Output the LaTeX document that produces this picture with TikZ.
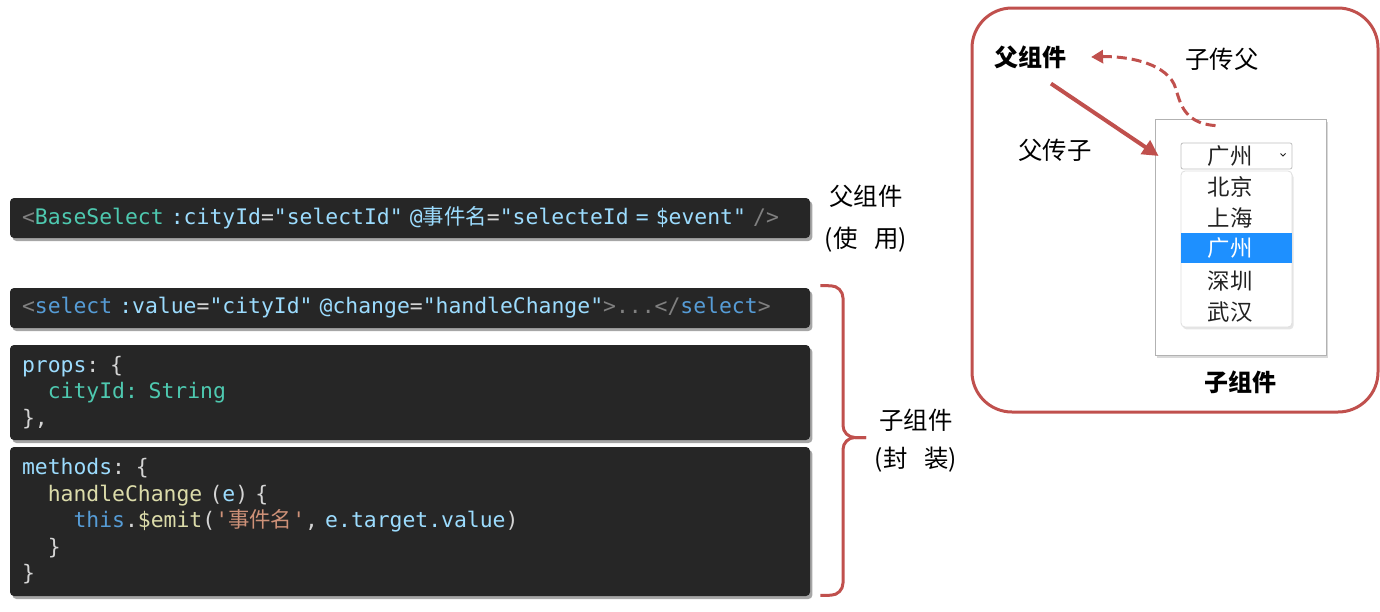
\documentclass[tikz,border=0pt]{standalone}
\usepackage{fontspec}
\setmonofont{DejaVu Sans Mono}
\newfontfamily\cjk{Noto Sans CJK SC}
\usepackage{xcolor}
\usepackage{tikz}
\usetikzlibrary{arrows.meta,shadows,positioning}

\definecolor{codebg}{HTML}{262626}
\definecolor{cgray}{HTML}{808080}
\definecolor{cwhite}{HTML}{D4D4D4}
\definecolor{ctag}{HTML}{4EC9B0}
\definecolor{cattr}{HTML}{9CDCFE}
\definecolor{cblue}{HTML}{569CD6}
\definecolor{cfunc}{HTML}{DCDCAA}
\definecolor{corange}{HTML}{CE9178}
\definecolor{bracered}{HTML}{C0504D}
\definecolor{hlblue}{HTML}{1E90FF}
\definecolor{inktext}{HTML}{222222}

% code colouring
\protected\def\codefont{\ttfamily\fontsize{10.7}{13.25}\selectfont\spaceskip=0.602em\relax}
\newcommand{\cg}[1]{\textcolor{cgray}{#1}}
\newcommand{\cw}[1]{\textcolor{cwhite}{#1}}
\newcommand{\ct}[1]{\textcolor{ctag}{#1}}
\newcommand{\ca}[1]{\textcolor{cattr}{#1}}
\newcommand{\cb}[1]{\textcolor{cblue}{#1}}
\newcommand{\cf}[1]{\textcolor{cfunc}{#1}}
\newcommand{\co}[1]{\textcolor{corange}{#1}}

\begin{document}
\begin{tikzpicture}[x=0.5pt, y=-0.5pt,
    codebox/.style={fill=codebg, rounded corners=2pt, text width=388pt, align=left,
        inner xsep=6pt, inner ysep=0pt, text=cwhite, font=\codefont,
        drop shadow={shadow xshift=1.2pt, shadow yshift=-1.5pt, opacity=0.35, fill=black}},
    lbl/.style={text=black, font=\cjk\fontsize{12.2}{14}\selectfont},
    pcarrow/.style={draw=bracered, line width=2pt, -{Triangle[length=8pt,width=8pt]}},
    cparrow/.style={draw=bracered, line width=1.5pt, dash pattern=on 5pt off 2.5pt,
        -{Triangle[length=6pt,width=6.5pt]}}]
    \useasboundingbox (0,0) rectangle (1380,611);

    % code snippets
    \node (usebox) [codebox, minimum height=20pt] at (410,218)
        {\cg{<}\ct{BaseSelect} \ca{:cityId}\cw{=}\ca{"selectId"} \ca{@{\cjk 事件名}}\cw{=}\ca{"selecteId = \$event"} \cg{/>}};
    \node (selbox) [codebox, minimum height=20pt] at (410,308)
        {\cg{<}\cb{select} \ca{:value}\cw{=}\ca{"cityId"} \ca{@change}\cw{=}\ca{"handleChange"}\cg{>...</}\cb{select}\cg{>}};
    \node (propbox) [codebox, minimum height=47.5pt] at (410,392.5)
        {\ca{props}\cw{: \{}\\
         \phantom{xx}\ct{cityId: String}\\
         \cw{\},}};
    \node (methbox) [codebox, minimum height=74.5pt] at (410,521.5)
        {\ca{methods}\cw{: \{}\\
         \phantom{xx}\cf{handleChange} \cw{(}\ca{e}\cw{) \{}\\
         \phantom{xxxx}\cb{this}\cw{.}\cf{\$emit}\cw{(}\co{'{\cjk 事件名}'}\cw{, }\ca{e.target.value}\cw{)}\\
         \phantom{xx}\cw{\}}\\
         \cw{\}}};

    % labels beside the code
    \node (uselbl) [lbl, align=center, font=\cjk\fontsize{12.2}{21}\selectfont] at (866,219)
        {父组件\\(使\hspace{0.7em}用)};
    \node (wraplbl) [lbl, align=center, font=\cjk\fontsize{12.2}{19}\selectfont] at (916,441)
        {子组件\\(封\hspace{0.7em}装)};

    % brace
    \draw[bracered, line width=1.5pt, rounded corners=6pt]
        ([shift={(10,-2)}]selbox.north east) -- (843,286) -- (843,437.5) -- (866,437.5);
    \draw[bracered, line width=1.5pt, rounded corners=6pt]
        ([shift={(10,-1)}]methbox.south east) -- (843,595) -- (843,437.5) -- (866,437.5);

    % right panel
    \node (panel) [draw=bracered, line width=1.5pt, rounded corners=20pt,
        minimum width=203pt, minimum height=202pt] at (1175,210) {};
    \node (parent) [lbl, font=\cjk\bfseries\fontsize{12}{14}\selectfont] at (1030,57) {父组件};
    \node (c2p) [lbl] at (1222,59) {子传父};
    \node (p2c) [lbl] at (1055,150) {父传子};

    \node (win) [draw=gray!60, fill=white, minimum width=85.5pt, minimum height=118pt,
        drop shadow={shadow xshift=1pt, shadow yshift=-1.5pt, opacity=0.3}] at (1240.5,237) {};
    \node (sel) [draw=gray!50, rounded corners=1pt, inner sep=0pt,
        minimum width=55.5pt, minimum height=13pt] at (1236.5,156) {};
    \node (selval) [text=inktext, font=\cjk\fontsize{11.2}{13}\selectfont] at (1230,156) {广州};
    \draw[inktext, line width=0.5pt] (1280.5,153.5) -- (1283,156) -- (1285.5,153.5);

    \node (list) [fill=white, draw=gray!25, rounded corners=2pt, inner sep=0pt,
        minimum width=55.5pt, minimum height=78pt,
        drop shadow={shadow xshift=0.8pt, shadow yshift=-1.2pt, opacity=0.2}] at (1236.5,249) {};
    \fill[hlblue] (1181,233) rectangle (1292,263);
    \foreach \city/\yy/\col [count=\i] in {北京/187/inktext, 上海/218/inktext, 广州/248/white, 深圳/281/inktext, 武汉/312/inktext}
        \node (item\i) [text=\col, font=\cjk\fontsize{11.2}{13}\selectfont] at (1230,\yy) {\city};

    \node (child) [lbl, font=\cjk\bfseries\fontsize{12}{14}\selectfont] at (1240,382) {子组件};

    % props down, events up
    \draw[pcarrow] ([shift={(21,8)}]parent.south) -- ([xshift=-11]sel.west);
    \draw[cparrow] ([shift={(-25,7)}]win.north) .. controls (1180,123) and (1180,98) .. (1174,84)
        .. controls (1163,62) and (1125,56) .. ([xshift=9]parent.east);
\end{tikzpicture}
\end{document}
